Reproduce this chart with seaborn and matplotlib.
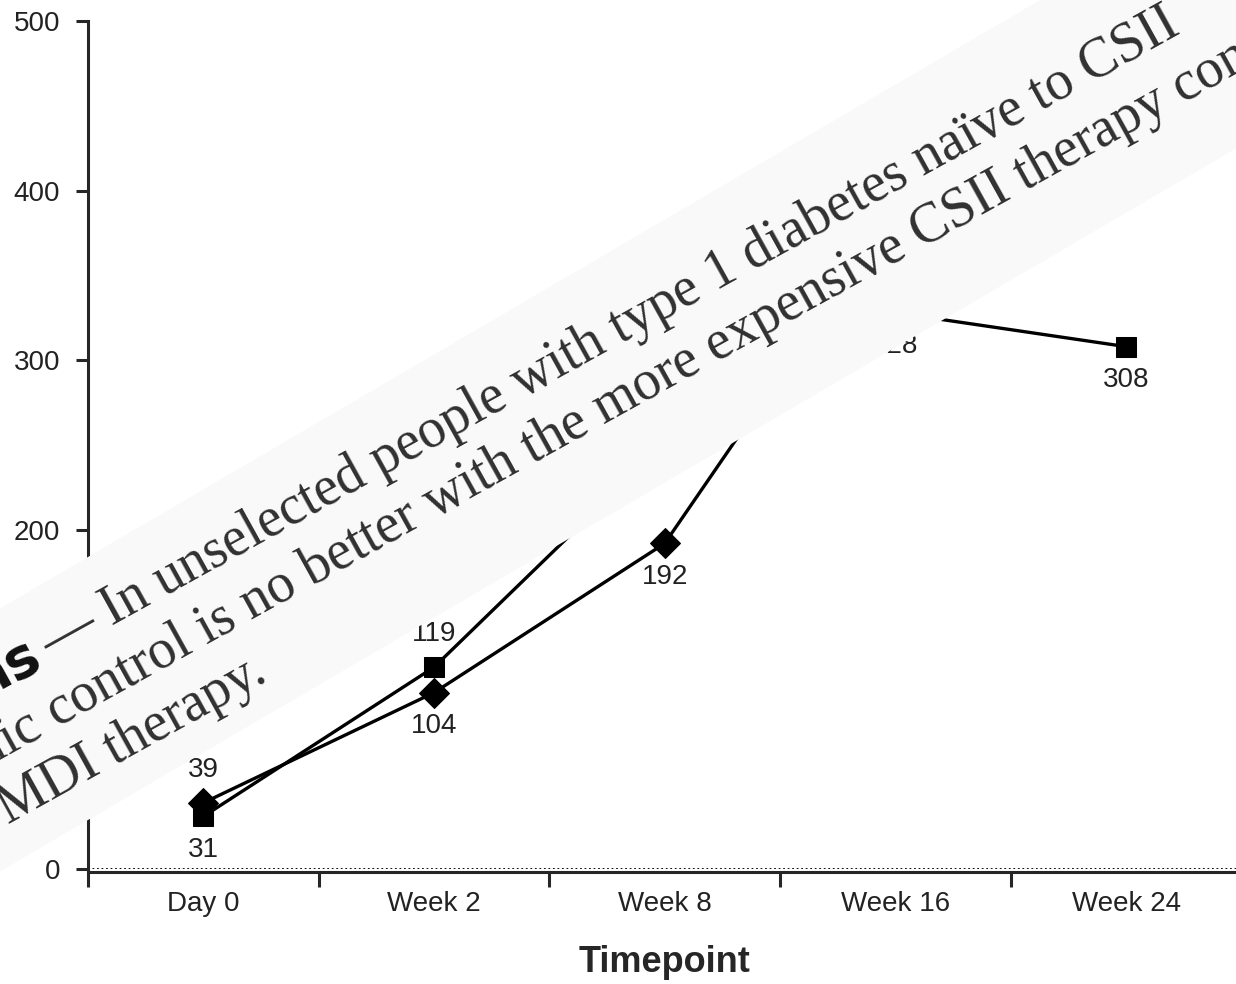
import matplotlib
matplotlib.use("Agg")
import numpy as np
import pandas as pd
import matplotlib.pyplot as plt
from matplotlib.patches import Polygon
import seaborn as sns

# ----------------------------- #
# Chart data (hidden points estimated from line slopes)
# ----------------------------- #
timepoints = ["Day 0", "Week 2", "Week 8", "Week 16", "Week 24"]
csii_values = [31, 119, 251, 328, 308]   # square markers
mdi_values = [39, 104, 192, 390, 430]    # diamond markers
# +1 = label above the marker, -1 = below
csii_label_side = [-1, 1, 1, -1, -1]
mdi_label_side = [1, -1, -1, -1, -1]
y_ticks = [0, 100, 200, 300, 400, 500]

# Text of the page scrap lying on top of the chart
scrap_bold = "ns"
scrap_line1 = "— In unselected people with type 1 diabetes naïve to CSII"
scrap_line2_head = "glycemic"
scrap_line2 = "control is no better with the more expensive CSII therapy compared"
scrap_line3_head = "with"
scrap_line3 = "MDI therapy."

W, H = 1236, 984


def fig_xy(x, y):
    """pixel position (y down) -> figure fraction"""
    return x / W, 1 - y / H


df = pd.DataFrame({
    "pos": list(range(len(timepoints))) * 2,
    "value": csii_values + mdi_values,
    "group": ["CSII"] * len(timepoints) + ["MDI"] * len(timepoints),
})

sns.set_style("ticks")
plt.rcParams["font.family"] = ["Liberation Sans", "DejaVu Sans"]

fig = plt.figure(figsize=(W / 100, H / 100), dpi=100)
ax = fig.add_axes([88 / W, 1 - 869 / H, 1153.5 / W, 848 / H])

sns.lineplot(data=df, x="pos", y="value", style="group",
             markers={"CSII": "s", "MDI": "D"}, dashes=False,
             color="black", linewidth=2.4, markersize=15,
             markeredgecolor="black", legend=False, ax=ax, zorder=3)
ax.axhline(0, color="black", linestyle=(0, (1, 1.5)), linewidth=1.3, zorder=2)

for vals, sides in [(csii_values, csii_label_side), (mdi_values, mdi_label_side)]:
    for i, (v, s) in enumerate(zip(vals, sides)):
        ax.annotate(str(v), (i, v), xytext=(0, 24 * s), textcoords="offset points",
                    ha="center", va="center", fontsize=20, color="#222222")

ax.set_xlim(-0.5, 4.5)
ax.set_ylim(0, 500)
ax.set_yticks(y_ticks)
ax.set_yticklabels([str(t) for t in y_ticks])
ax.set_xticks(np.arange(-0.5, 5, 1))
ax.set_xticklabels([])
ax.set_xticks(range(len(timepoints)), minor=True)
ax.set_xticklabels(timepoints, minor=True)
ax.tick_params(axis="x", which="major", length=11, width=2.2, direction="out")
ax.tick_params(axis="x", which="minor", length=0, pad=14, labelsize=20,
               labelcolor="#222222")
ax.tick_params(axis="y", length=9, width=2.2, direction="out", pad=11,
               labelsize=20, labelcolor="#222222")
ax.set_xlabel("Timepoint", fontsize=26, fontweight="bold", labelpad=20)
ax.set_ylabel("")
for side in ["top", "right"]:
    ax.spines[side].set_visible(False)
for side in ["left", "bottom"]:
    ax.spines[side].set_linewidth(2.2)
ax.spines["bottom"].set_position(("outward", 2))

# ----------------------------- #
# Rotated strip of page text covering the plot
# ----------------------------- #
slope = 0.585
xs = [-200, 1500, 1500, -200]
ys = [557 - slope * (-200 - 88), 557 - slope * (1500 - 88),
      820 - slope * (1500 - 88), 820 - slope * (-200 - 88)]
band = Polygon([fig_xy(x, y) for x, y in zip(xs, ys)], closed=True,
               transform=fig.transFigure, facecolor="#f9f9f9", edgecolor="none",
               zorder=5)
fig.add_artist(band)

angle = 29
t = np.tan(np.radians(angle))


def base1(x):
    return 611 - t * (x - 140)


serif = ["Liberation Serif", "DejaVu Serif"]
txt = dict(rotation=angle, rotation_mode="anchor", va="baseline",
           fontsize=40, family=serif, color="#303030", zorder=6)
spacing = 70

fig.text(*fig_xy(44, base1(44)), scrap_bold, ha="right", fontsize=40,
         fontweight="bold", family=["DejaVu Sans"], color="#111111",
         rotation=angle, rotation_mode="anchor", va="baseline", zorder=6)
fig.text(*fig_xy(52, base1(52)), scrap_line1, ha="left", **txt)
fig.text(*fig_xy(45, base1(45) + spacing), scrap_line2_head, ha="right", **txt)
fig.text(*fig_xy(57, base1(57) + spacing), scrap_line2, ha="left", **txt)
fig.text(*fig_xy(-6, base1(-6) + 2 * spacing), scrap_line3_head, ha="right", **txt)
fig.text(*fig_xy(8, base1(8) + 2 * spacing), scrap_line3, ha="left", **txt)

fig.savefig("out.png", dpi=100)
plt.close(fig)
